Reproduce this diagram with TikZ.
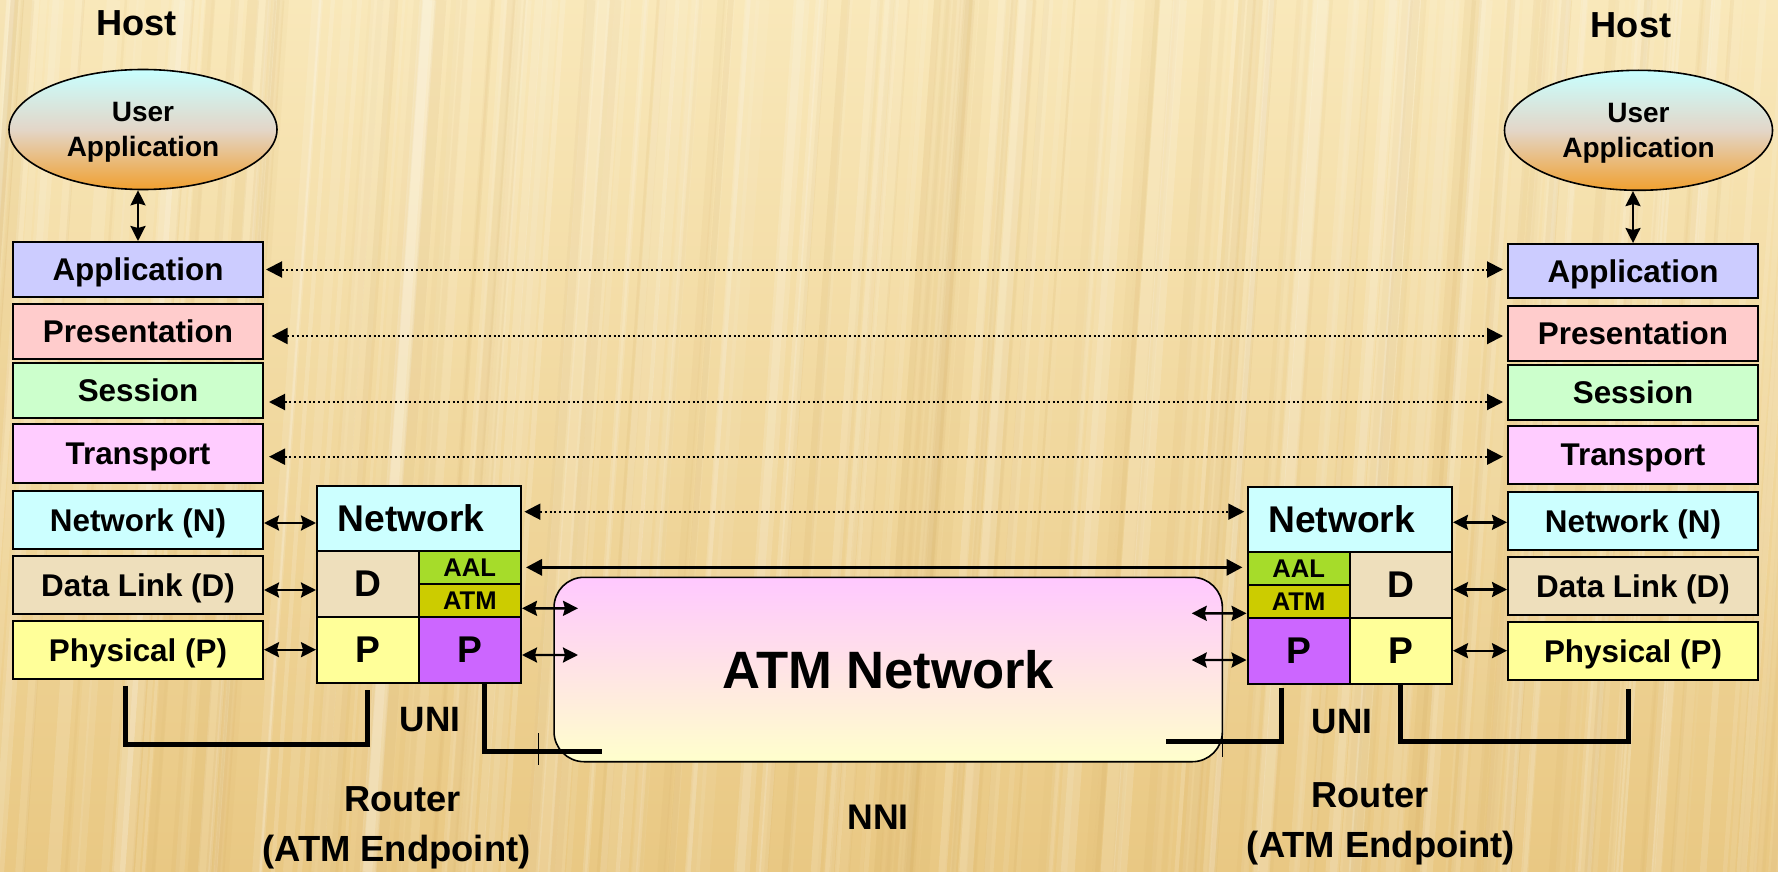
\documentclass[tikz,border=0pt]{standalone}
\usepackage{fontspec}
\setmainfont{Liberation Sans}
\usetikzlibrary{shapes.geometric,arrows.meta,calc}

\definecolor{cApp}{HTML}{CCCCFF}
\definecolor{cPres}{HTML}{FFCCCC}
\definecolor{cSess}{HTML}{CCFFCC}
\definecolor{cTrans}{HTML}{FFCCFF}
\definecolor{cNet}{HTML}{CCFFFF}
\definecolor{cData}{HTML}{EEDFBC}
\definecolor{cPhys}{HTML}{FFFF99}
\definecolor{cAAL}{HTML}{A6DC2A}
\definecolor{cATM}{HTML}{CCCC00}
\definecolor{cPurp}{HTML}{CC66FF}
\definecolor{bgTop}{HTML}{F9E8BA}
\definecolor{bgBot}{HTML}{E9C883}
\definecolor{stripeDark}{HTML}{C89A48}
\definecolor{ellTop}{HTML}{C8FFFF}
\definecolor{ellMid}{HTML}{E3D6C8}
\definecolor{ellBot}{HTML}{F0A030}
\definecolor{cloudTop}{HTML}{FFC8FF}
\definecolor{cloudBot}{HTML}{FFFFCC}

\begin{document}
\begin{tikzpicture}[x=0.5pt,y=-0.5pt,
  hostf/.style={font=\fontsize{18.1}{21}\selectfont\bfseries},
  layerf/.style={font=\fontsize{15.7}{18}\selectfont\bfseries},
  ellf/.style={font=\fontsize{14}{17.2}\selectfont\bfseries},
  routf/.style={font=\fontsize{18.6}{22}\selectfont\bfseries},
  smallf/.style={font=\fontsize{12.8}{14}\selectfont\bfseries},
  bigf/.style={font=\fontsize{26.3}{30}\selectfont\bfseries},
  labf/.style={font=\fontsize{18.1}{22}\selectfont\bfseries},
  layer/.style={draw, line width=1pt, minimum width=125pt, inner sep=0pt, text depth=0pt, layerf},
  rbox/.style={draw, line width=1pt, inner sep=0pt, text depth=0pt},
  userapp/.style={ellipse, draw, line width=0.8pt, minimum width=134pt, minimum height=60pt,
     inner sep=0pt, text depth=0pt, top color=ellTop, bottom color=ellBot, middle color=ellMid, align=center, ellf},
  dotarr/.style={line width=1pt, dash pattern=on 1pt off 1.4pt,
     {Triangle[length=8pt,width=8pt]}-{Triangle[length=8pt,width=8pt]}},
  dbl/.style={line width=1.2pt, {Stealth[length=7.5pt,width=7.5pt,inset=1pt]}-{Stealth[length=7.5pt,width=7.5pt,inset=1pt]}},
  aalarr/.style={line width=1.6pt, {Triangle[length=8pt,width=8pt]}-{Triangle[length=8pt,width=8pt]}},
  bracket/.style={line width=2.5pt},
  tick/.style={line width=0.5pt}
]
\useasboundingbox (0,0) rectangle (1778,872);

% background
\begin{scope}
\clip (0,0) rectangle (1778,872);
\fill[top color=bgTop, bottom color=bgBot] (0,0) rectangle (1778,872);
\pgfmathsetseed{12}
\foreach \i in {1,...,170}{
  \pgfmathsetmacro{\xx}{rnd*1950-80}
  \pgfmathsetmacro{\ww}{1+rnd*6}
  \pgfmathsetmacro{\op}{0.04+rnd*0.12}
  \draw[line width=\ww pt, white, opacity=\op] (\xx,0) -- (\xx-60,872);
}
\foreach \i in {1,...,110}{
  \pgfmathsetmacro{\xx}{rnd*1950-80}
  \pgfmathsetmacro{\ww}{1+rnd*5}
  \pgfmathsetmacro{\op}{0.03+rnd*0.07}
  \draw[line width=\ww pt, stripeDark, opacity=\op] (\xx,0) -- (\xx-60,872);
}
\end{scope}

% hosts
\node[hostf, anchor=base] (hostL) at (136.6,36) {Host};
\node[hostf, anchor=base] (hostR) at (1631,38) {Host};

\node[userapp] (lell) at (143,129.5) {User\\Application};
\node[userapp] (rell) at (1638.5,130.3) {User\\Application};

% left stack
\node[layer, fill=cApp,   minimum height=27.5pt] (lapp)   at (138,269.5) {Application};
\node[layer, fill=cPres,  minimum height=27.5pt] (lpres)  at (138,331.5) {Presentation};
\node[layer, fill=cSess,  minimum height=27.5pt] (lsess)  at (138,390.5) {Session};
\node[layer, fill=cTrans, minimum height=29.5pt] (ltrans) at (138,453.5) {Transport};
\node[layer, fill=cNet,   minimum height=29pt]   (lnet)   at (138,520) {Network (N)};
\node[layer, fill=cData,  minimum height=29pt]   (ldata)  at (138,585) {Data Link (D)};
\node[layer, fill=cPhys,  minimum height=29pt]   (lphys)  at (138,649.7) {Physical (P)};

% right stack
\node[layer, fill=cApp,   minimum height=27pt]   (rapp)   at (1633,271) {Application};
\node[layer, fill=cPres,  minimum height=27.5pt] (rpres)  at (1633,333.5) {Presentation};
\node[layer, fill=cSess,  minimum height=27.5pt] (rsess)  at (1633,392.5) {Session};
\node[layer, fill=cTrans, minimum height=29pt]   (rtrans) at (1633,455) {Transport};
\node[layer, fill=cNet,   minimum height=28.9pt] (rnet)   at (1633,521.2) {Network (N)};
\node[layer, fill=cData,  minimum height=28.9pt] (rdata)  at (1633,586.2) {Data Link (D)};
\node[layer, fill=cPhys,  minimum height=28.9pt] (rphys)  at (1633,651.2) {Physical (P)};

% left router
\node[rbox, fill=cNet, minimum width=102pt, minimum height=32.35pt, routf] (lrnet) at (419,518.3) {Network\hspace*{8pt}};
\node[rbox, fill=cData, minimum width=50.8pt, minimum height=33pt, routf] (lrd) at (367.8,583.7) {D};
\node[rbox, fill=cPhys, minimum width=50.8pt, minimum height=33pt, routf] (lryp) at (367.8,649.7) {P};
\node[rbox, fill=cAAL, minimum width=51.2pt, minimum height=16.65pt, smallf] (lraal) at (469.8,567.35) {AAL};
\node[rbox, fill=cATM, minimum width=51.2pt, minimum height=16.35pt, smallf] (lratm) at (469.8,600.35) {ATM};
\node[rbox, fill=cPurp, minimum width=51.2pt, minimum height=33pt, routf] (lrpp) at (469.8,649.7) {P};

% right router
\node[rbox, fill=cNet, minimum width=102.25pt, minimum height=32.35pt, routf] (rrnet) at (1349.75,519.35) {Network\hspace*{8pt}};
\node[rbox, fill=cAAL, minimum width=51.1pt, minimum height=16.65pt, smallf] (rraal) at (1298.6,568.35) {AAL};
\node[rbox, fill=cATM, minimum width=51.1pt, minimum height=16.35pt, smallf] (rratm) at (1298.6,601.35) {ATM};
\node[rbox, fill=cPurp, minimum width=51.1pt, minimum height=33pt, routf] (rrpp) at (1298.6,650.7) {P};
\node[rbox, fill=cData, minimum width=51.15pt, minimum height=33pt, routf] (rrd) at (1400.85,584.7) {D};
\node[rbox, fill=cPhys, minimum width=51.15pt, minimum height=33pt, routf] (rryp) at (1400.85,650.7) {P};

% ATM cloud
\node[draw, line width=0.8pt, rounded corners=15pt, minimum width=334.15pt, minimum height=92.2pt,
  text depth=0pt, top color=cloudTop, bottom color=cloudBot, bigf] (cloud) at (888.2,669.5) {ATM Network};

% vertical arrows
\draw[dbl] (lapp.north |- lell.south) -- (lapp.north);
\draw[dbl] (rapp.north |- rell.south) -- (rapp.north);

% peer dotted arrows
\draw[dotarr] ([xshift=1pt]lapp.east) -- ([xshift=-2pt]lapp.east -| rapp.west);
\draw[dotarr] ([xshift=3.8pt,yshift=-2.25pt]lpres.east) -- ([xshift=-2pt,yshift=-2.25pt]lpres.east -| rpres.west);
\draw[dotarr] ([xshift=2.5pt,yshift=-5.75pt]lsess.east) -- ([xshift=-2pt,yshift=-5.75pt]lsess.east -| rsess.west);
\draw[dotarr] ([xshift=2.5pt,yshift=-1.6pt]ltrans.east) -- ([xshift=-2pt,yshift=-1.6pt]ltrans.east -| rtrans.west);
\draw[dotarr] ([xshift=1.2pt,yshift=3.3pt]lrnet.east) -- ([xshift=-1.1pt,yshift=3.3pt]lrnet.east -| rrnet.west);

% AAL arrow
\draw[aalarr] ([xshift=2pt]lraal.east) -- ([xshift=-2pt]lraal.east -| rraal.west);

% host - router arrows
\draw[dbl] ([yshift=-1.5pt]lnet.east) -- ([yshift=-1.5pt]lnet.east -| lrnet.west);
\draw[dbl] ([yshift=-2.5pt]ldata.east) -- ([yshift=-2.5pt]ldata.east -| lrd.west);
\draw[dbl] (lphys.east) -- (lphys.east -| lryp.west);
\draw[dbl] ([yshift=-1.5pt]rrnet.east) -- ([yshift=-1.5pt]rrnet.east -| rnet.west);
\draw[dbl] ([yshift=-2.4pt]rrd.east) -- ([yshift=-2.4pt]rrd.east -| rdata.west);
\draw[dbl] (rryp.east) -- (rryp.east -| rphys.west);

% router - cloud arrows
\coordinate (cl1) at (578,608.3);
\coordinate (cl2) at (578,655);
\coordinate (cr1) at (1191.7,613.3);
\coordinate (cr2) at (1191.7,660);
\draw[dbl] ([yshift=-4pt]lratm.east) -- (cl1);
\draw[dbl] ([yshift=-2.65pt]lrpp.east) -- (cl2);
\draw[dbl] (cr1) -- ([yshift=-6pt]rratm.west);
\draw[dbl] (cr2) -- ([yshift=-4.65pt]rrpp.west);

% brackets
\coordinate (nniL) at (602.4,751.7);
\coordinate (nniR) at (1166,741.7);
\draw[bracket] ([xshift=-6.15pt,yshift=-3pt]lphys.south) -- ++(0,58.3) -| ([yshift=-3.3pt]lryp.south);
\draw[bracket] ([xshift=7.1pt]lrpp.south) |- (nniL);
\draw[bracket] ([xshift=-8.8pt,yshift=-1.5pt]rrpp.south) |- (nniR);
\draw[bracket] (rryp.south) -- ++(0,56.3) -| ([xshift=-2.5pt,yshift=-3.8pt]rphys.south);

% thin ticks
\draw[tick] (538.7,733) -- (538.7,765);
\draw[tick] (1222.3,722) -- (1222.3,757);

% labels
\node[labf, anchor=base, font=\fontsize{17.6}{20}\selectfont\bfseries] (uniL) at (430,731) {UNI};
\node[labf, anchor=base, font=\fontsize{17.6}{20}\selectfont\bfseries] (uniR) at (1342,733) {UNI};
\node[labf, anchor=base, font=\fontsize{17.8}{20}\selectfont\bfseries] (nni) at (878,829.5) {NNI};
\node[labf, anchor=base] (rtrL) at (402.7,811) {Router};
\node[labf, anchor=base, font=\fontsize{18.2}{22}\selectfont\bfseries] (endL) at (396.4,861) {(ATM Endpoint)};
\node[labf, anchor=base] (rtrR) at (1370,807) {Router};
\node[labf, anchor=base, font=\fontsize{18.2}{22}\selectfont\bfseries] (endR) at (1381,857) {(ATM Endpoint)};
\end{tikzpicture}
\end{document}
